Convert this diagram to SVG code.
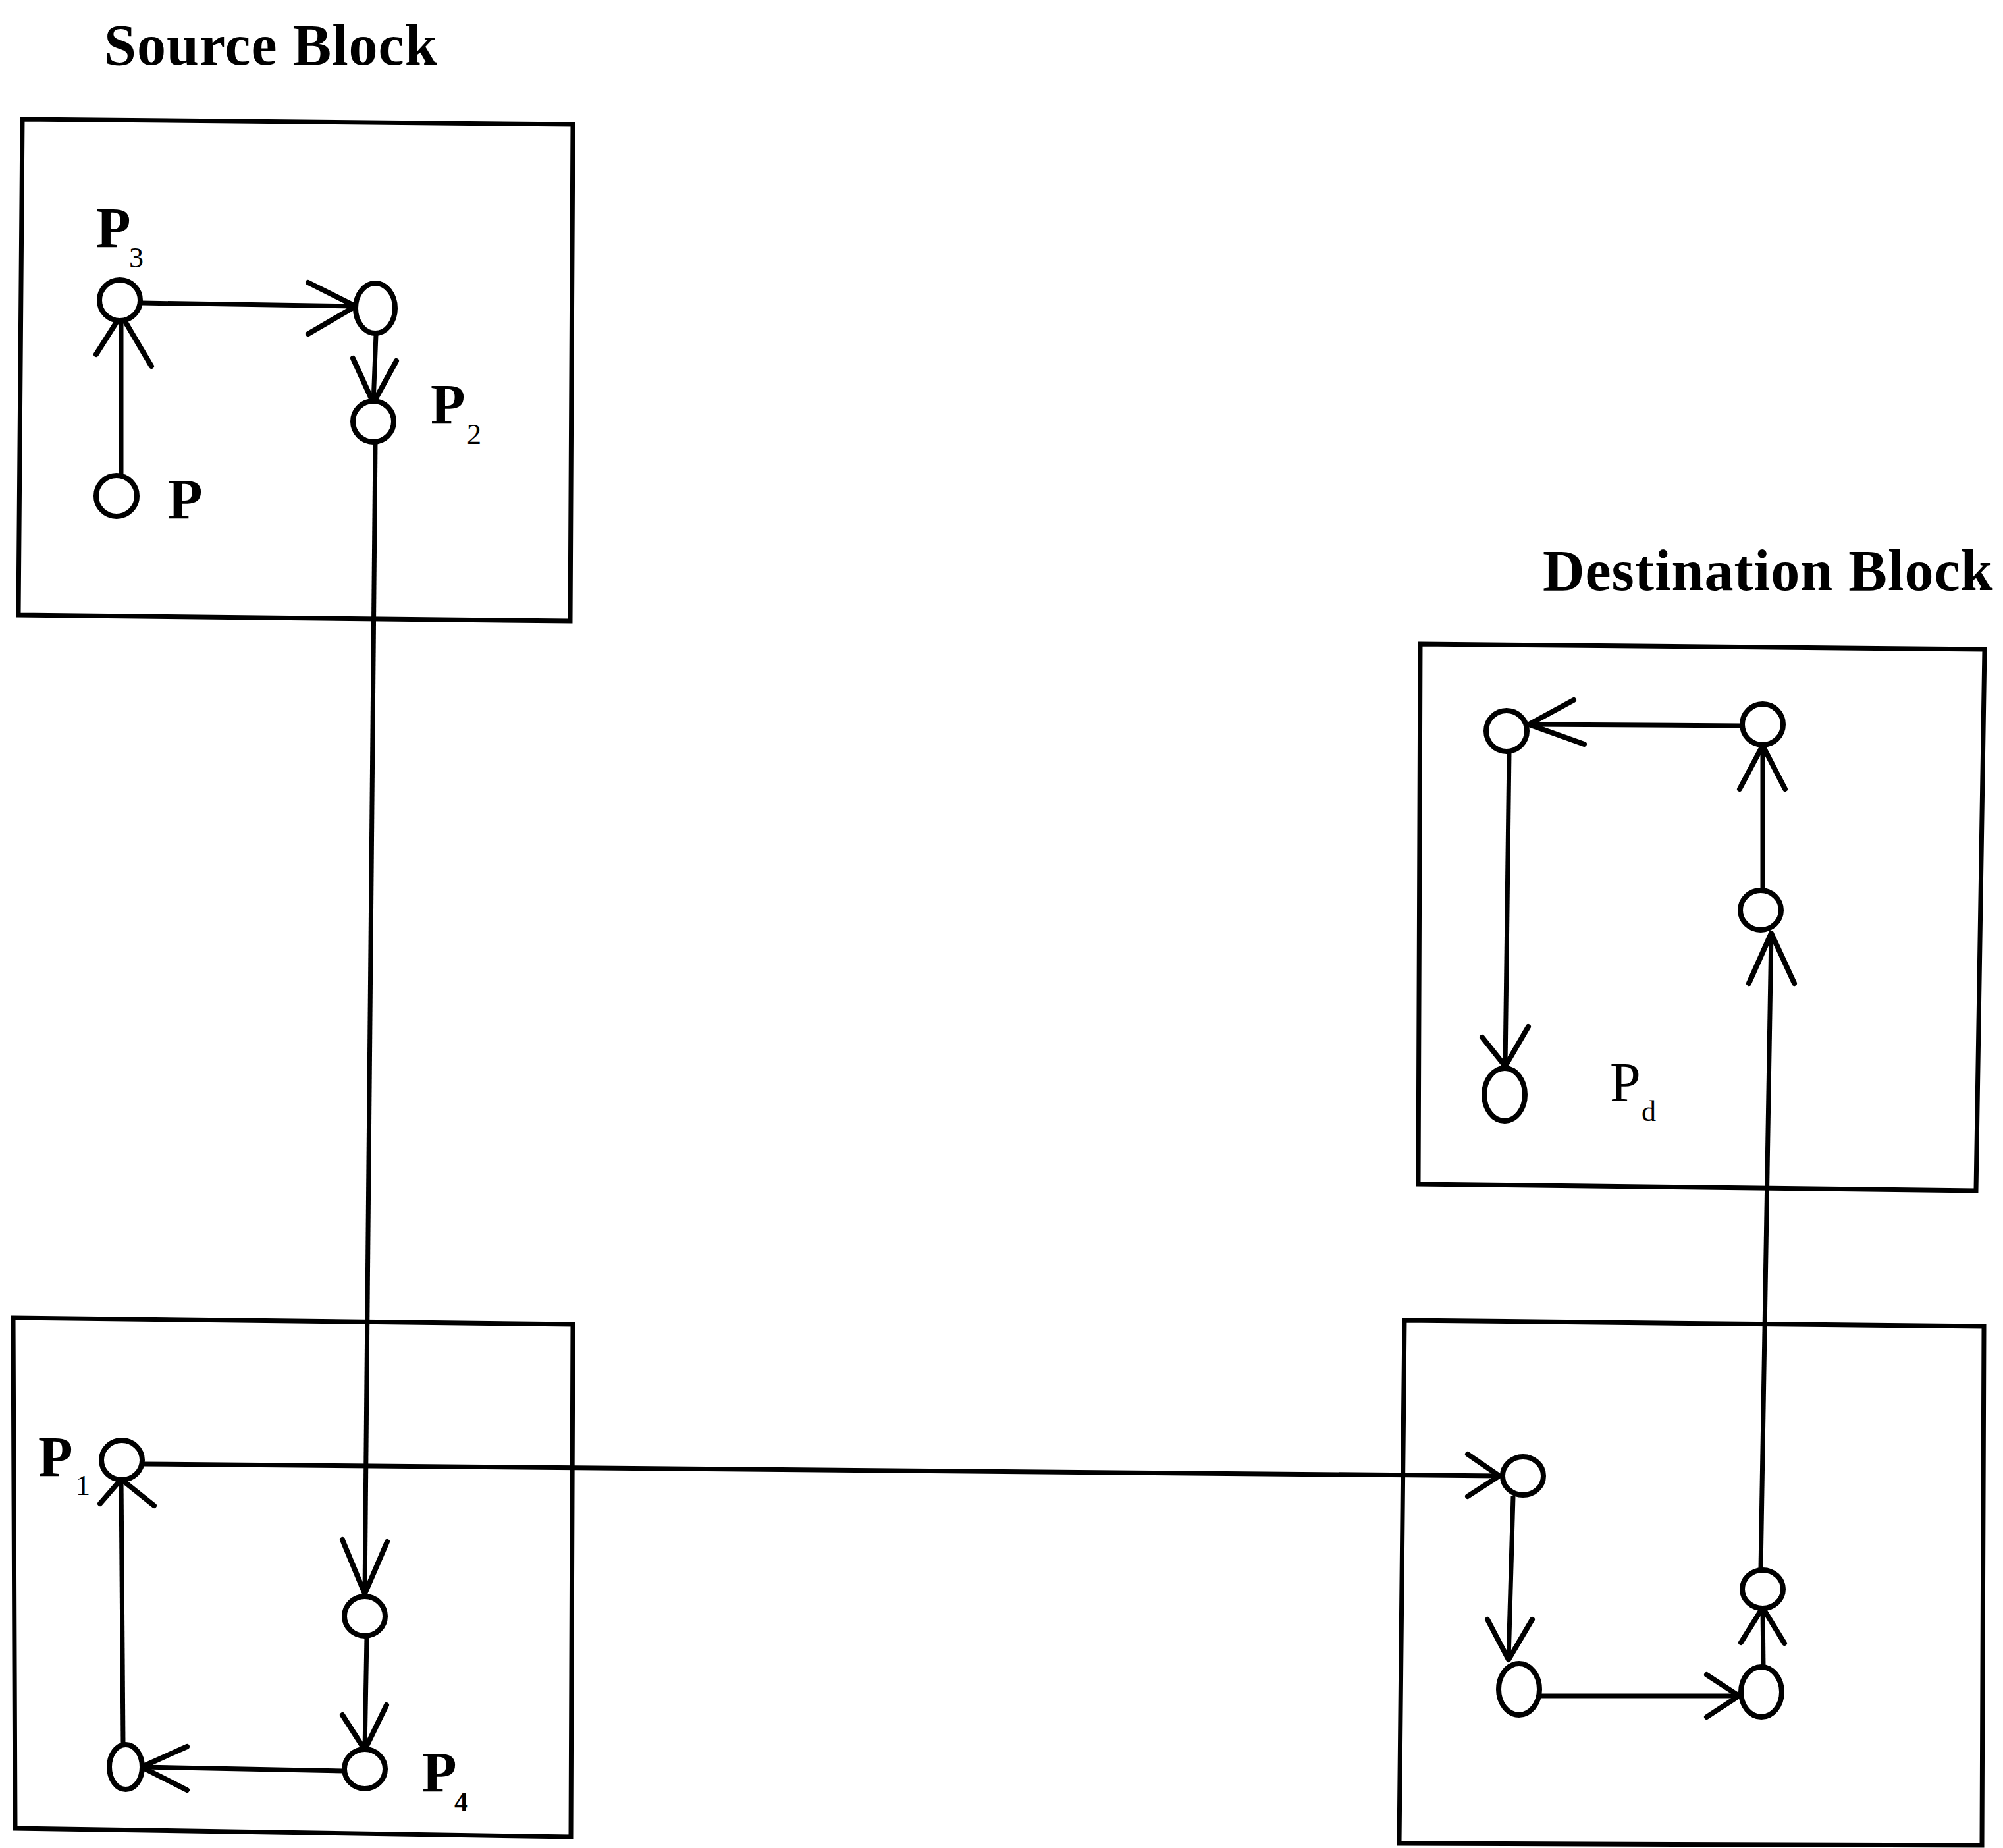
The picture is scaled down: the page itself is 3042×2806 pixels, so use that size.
<svg xmlns="http://www.w3.org/2000/svg" width="3042" height="2806" viewBox="0 0 3042 2806">
<style>
.blk{fill:none;stroke:#000;stroke-width:7;stroke-linejoin:miter}
.node{fill:#fff;stroke:#000;stroke-width:8}
.edge{fill:none;stroke:#000;stroke-width:7}
.head{fill:none;stroke:#000;stroke-width:8;stroke-linecap:round;stroke-linejoin:round}
.title{font-family:"Liberation Serif","Times New Roman",serif;font-weight:bold;font-size:88px;letter-spacing:1px;fill:#000}
.lbl{font-family:"Liberation Serif","Times New Roman",serif;font-weight:bold;font-size:86px;fill:#000}
.lbln{font-family:"Liberation Serif","Times New Roman",serif;font-size:84px;fill:#000}
.sub{font-family:"Liberation Serif","Times New Roman",serif;font-size:44px;fill:#000}
.subb{font-family:"Liberation Serif","Times New Roman",serif;font-weight:bold;font-size:42px;fill:#000}
</style>
<rect width="3042" height="2806" fill="#fff"/>
<g id="titles">
<text class="title" x="158" y="98">Source Block</text>
<text class="title" x="2343" y="896">Destination Block</text>
</g>
<g id="blocks">
<polygon id="source-block" class="blk" points="34,181 870,189 866,943 28,934"/>
<polygon id="block-bl" class="blk" points="20,2001 870,2011 867,2789 23,2776"/>
<polygon id="destination-block" class="blk" points="2157,978 3014,986 3001,1808 2154,1798"/>
<polygon id="block-br" class="blk" points="2133,2005 3013,2014 3010,2802 2125,2799"/>
</g>
<g id="connectors">
<line class="edge" x1="184" y1="723" x2="184" y2="478"/>
<polyline class="head" points="146,538 184,478 230,556"/>
<line class="edge" x1="215" y1="460" x2="540" y2="465"/>
<polyline class="head" points="468,429 540,465 468,507"/>
<line class="edge" x1="571" y1="508" x2="567" y2="612"/>
<polyline class="head" points="536,544 567,612 602,548"/>
<line class="edge" x1="570" y1="674" x2="554" y2="2420"/>
<polyline class="head" points="520,2338 554,2420 588,2341"/>
<line class="edge" x1="557" y1="2486" x2="554" y2="2657"/>
<polyline class="head" points="520,2604 554,2657 587,2589"/>
<line class="edge" x1="522" y1="2689" x2="215" y2="2683"/>
<polyline class="head" points="284,2652 215,2683 284,2718"/>
<line class="edge" x1="187" y1="2649" x2="184" y2="2246"/>
<polyline class="head" points="152,2283 184,2246 234,2286"/>
<line class="edge" x1="218" y1="2223" x2="2277" y2="2241"/>
<polyline class="head" points="2229,2208 2277,2241 2229,2272"/>
<line class="edge" x1="2298" y1="2272" x2="2291" y2="2520"/>
<polyline class="head" points="2259,2459 2291,2520 2327,2459"/>
<line class="edge" x1="2340" y1="2575" x2="2641" y2="2575"/>
<polyline class="head" points="2592,2543 2641,2575 2592,2607"/>
<line class="edge" x1="2678" y1="2531" x2="2677" y2="2441"/>
<polyline class="head" points="2644,2494 2677,2441 2710,2495"/>
<line class="edge" x1="2674" y1="2383" x2="2690" y2="1417"/>
<polyline class="head" points="2656,1493 2690,1417 2725,1493"/>
<line class="edge" x1="2677" y1="1350" x2="2677" y2="1132"/>
<polyline class="head" points="2642,1198 2677,1132 2711,1198"/>
<line class="edge" x1="2645" y1="1102" x2="2322" y2="1100"/>
<polyline class="head" points="2390,1063 2322,1100 2406,1130"/>
<line class="edge" x1="2292" y1="1142" x2="2286" y2="1619"/>
<polyline class="head" points="2251,1575 2286,1619 2321,1559"/>
</g>
<g id="node-p3"><ellipse class="node" cx="182" cy="456" rx="31" ry="31"/><text class="lbl" x="146" y="375">P</text><text class="sub" x="196" y="406">3</text></g>
<g id="node-s2"><ellipse class="node" cx="570" cy="468" rx="30" ry="38"/></g>
<g id="node-p2"><ellipse class="node" cx="567" cy="640" rx="31" ry="31"/><text class="lbl" x="654" y="643">P</text><text class="sub" x="709" y="674">2</text></g>
<g id="node-p"><ellipse class="node" cx="177" cy="753" rx="31" ry="31"/><text class="lbl" x="255" y="787">P</text></g>
<g id="node-p1"><ellipse class="node" cx="185" cy="2217" rx="31" ry="30"/><text class="lbl" x="58" y="2241">P</text><text class="sub" x="115" y="2270">1</text></g>
<g id="node-b2"><ellipse class="node" cx="554" cy="2454" rx="31" ry="30"/></g>
<g id="node-p4"><ellipse class="node" cx="554" cy="2686" rx="31" ry="30"/><text class="lbl" x="641" y="2720">P</text><text class="subb" x="690" y="2750">4</text></g>
<g id="node-b4"><ellipse class="node" cx="191" cy="2683" rx="25" ry="34"/></g>
<g id="node-c1"><ellipse class="node" cx="2313" cy="2241" rx="31" ry="29"/></g>
<g id="node-c2"><ellipse class="node" cx="2307" cy="2565" rx="31" ry="39"/></g>
<g id="node-c3"><ellipse class="node" cx="2675" cy="2569" rx="31" ry="38"/></g>
<g id="node-c4"><ellipse class="node" cx="2677" cy="2413" rx="31" ry="29"/></g>
<g id="node-d1"><ellipse class="node" cx="2674" cy="1382" rx="31" ry="30"/></g>
<g id="node-d2"><ellipse class="node" cx="2677" cy="1100" rx="31" ry="31"/></g>
<g id="node-d3"><ellipse class="node" cx="2288" cy="1110" rx="31" ry="31"/></g>
<g id="node-pd"><ellipse class="node" cx="2285" cy="1662" rx="31" ry="40"/><text class="lbln" x="2445" y="1672">P</text><text class="sub" x="2493" y="1702">d</text></g>
</svg>
